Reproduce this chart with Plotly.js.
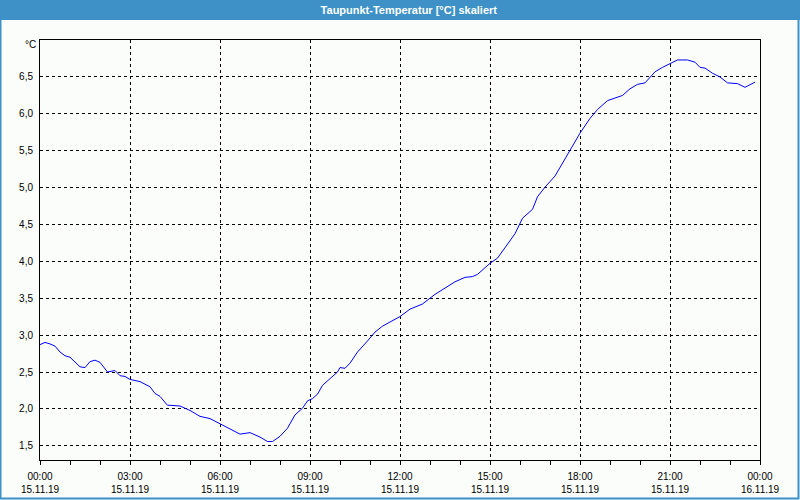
<!DOCTYPE html>
<html><head><meta charset="utf-8">
<script src="https://cdn.plot.ly/plotly-3.0.1.min.js"></script>
<style>html,body{margin:0;padding:0;background:#fbfdfb;}#chart{width:800px;height:500px;}</style>
</head><body><div id="chart"></div>
<script>
const chartTitle = "Taupunkt-Temperatur [°C] skaliert";
const unitLabel = "°C";
const day = "2019-11-15";
const times = ["00:00","00:10","00:20","00:30","00:40","00:50","01:00","01:10","01:20","01:30","01:40","01:50",
 "02:00","02:15","02:30","02:40","02:50","03:00","03:20","03:40","03:50","04:00","04:15","04:20","04:40",
 "05:00","05:20","05:40","06:00","06:20","06:40","07:00","07:20","07:35","07:45","08:00","08:15","08:30",
 "08:45","08:55","09:05","09:15","09:25","09:40","09:55","10:00","10:10","10:20","10:35","10:55","11:10",
 "11:25","11:45","12:00","12:20","12:45","13:10","13:25","13:50","14:10","14:25","14:35","15:00","15:15",
 "15:35","15:50","16:05","16:25","16:35","16:50","17:10","17:25","17:40","18:00","18:20","18:35","18:55",
 "19:15","19:25","19:40","19:55","20:10","20:30","20:45","21:05","21:15","21:35","21:50","22:00","22:10",
 "22:25","22:40","22:55","23:15","23:30","23:40","23:50"];
const dewpoint = [2.87,2.90,2.88,2.85,2.77,2.72,2.70,2.64,2.57,2.56,2.64,2.66,
 2.63,2.50,2.52,2.45,2.44,2.40,2.37,2.30,2.21,2.17,2.05,2.05,2.04,
 1.98,1.90,1.87,1.80,1.72,1.66,1.68,1.62,1.56,1.56,1.63,1.74,1.92,
 2.01,2.11,2.14,2.20,2.32,2.41,2.50,2.56,2.55,2.62,2.77,2.92,3.04,
 3.12,3.20,3.25,3.35,3.42,3.55,3.61,3.72,3.78,3.79,3.82,3.97,4.04,
 4.22,4.37,4.58,4.70,4.87,5.00,5.15,5.32,5.50,5.73,5.93,6.05,6.17,
 6.22,6.24,6.33,6.39,6.41,6.56,6.62,6.69,6.72,6.72,6.69,6.62,6.61,
 6.54,6.49,6.41,6.40,6.35,6.38,6.42];
const yTicks = [1.5,2.0,2.5,3.0,3.5,4.0,4.5,5.0,5.5,6.0,6.5];

const xs = times.map(t => day + " " + t);
const fnt = {family: "Liberation Sans, Arial, sans-serif", size: 10, color: "#000"};
const W = 720, H = 420, L = 40, T = 40;
const px = v => (v - L) / W, py = v => (T + H - v) / H;

Plotly.newPlot("chart", [{
  x: xs, y: dewpoint, type: "scatter", mode: "lines",
  line: {color: "#0000ff", width: 1}, hoverinfo: "skip"
}], {
  width: 800, height: 500,
  margin: {l: 40, r: 40, t: 40, b: 40},
  paper_bgcolor: "#fbfdfb", plot_bgcolor: "#fbfdfb",
  separators: ",.",
  showlegend: false,
  title: {text: "<b>" + chartTitle + "</b>", x: 0.511, xanchor: "center", xref: "container",
          y: 0.98, yanchor: "middle", yref: "container",
          font: {family: "Liberation Sans, Arial, sans-serif", size: 11, color: "#ffffff"}},
  xaxis: {
    type: "date", range: ["2019-11-15 00:00", "2019-11-16 00:00"],
    dtick: 3 * 3600000, tick0: "2019-11-15 00:00", tickformat: "%H:%M<br>%d.%m.%y",
    ticks: "outside", ticklen: 4, tickcolor: "#000", tickwidth: 1,
    minor: {dtick: 3600000, ticks: "outside", ticklen: 4, tickcolor: "#000", showgrid: false},
    showgrid: true, gridcolor: "#000", gridwidth: 1, griddash: "3px,3px",
    showline: true, linecolor: "#000", linewidth: 1, mirror: true,
    zeroline: false, tickfont: fnt, ticklabelstandoff: 3, fixedrange: true
  },
  yaxis: {
    range: [1.31, 6.99], tickvals: yTicks, tickformat: ".1f",
    ticks: "", showgrid: true, gridcolor: "#000", gridwidth: 1, griddash: "3px,3px",
    showline: true, linecolor: "#000", linewidth: 1, mirror: true,
    zeroline: false, tickfont: fnt, ticklabelstandoff: 4, fixedrange: true
  },
  shapes: [
    {type: "rect", xref: "paper", yref: "paper", x0: px(0), x1: px(800), y0: py(20), y1: py(0),
     fillcolor: "#3d91c6", line: {width: 0}, layer: "below"},
    {type: "rect", xref: "paper", yref: "paper", x0: px(0.5), x1: px(798.5), y0: py(498.5), y1: py(0),
     fillcolor: "rgba(0,0,0,0)", line: {color: "#3d91c6", width: 2}, layer: "below"}
  ],
  annotations: [
    {text: unitLabel, xref: "paper", yref: "paper", x: px(38), y: py(45), xanchor: "right", yanchor: "middle",
     showarrow: false, font: fnt}
  ]
}, {staticPlot: true});
</script></body></html>
